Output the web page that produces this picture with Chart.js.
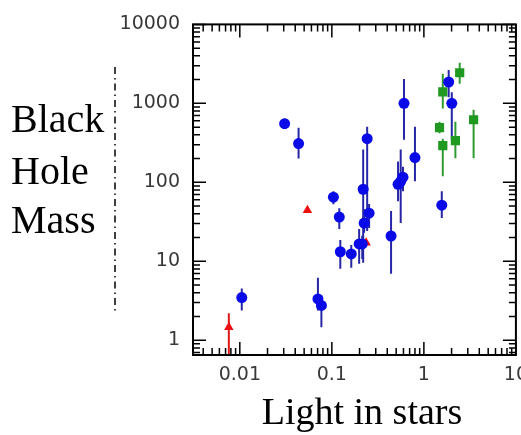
<!DOCTYPE html>
<html>
<head>
<meta charset="utf-8">
<script src="https://cdn.jsdelivr.net/npm/chart.js@4"></script>
<style>
  html, body { margin: 0; padding: 0; background: #fff; overflow: hidden; }
  #wrap { position: absolute; left: 0; top: 0; }
</style>
</head>
<body>
<div id="wrap"><canvas id="myChart" width="537" height="435"></canvas></div>
<script>
// galaxies with measured black holes (blue circles)
const blueX  = [0.0105, 0.0307, 0.0435, 0.0706, 0.077, 0.104, 0.1205, 0.1236, 0.1626, 0.198, 0.214, 0.2244, 0.254, 0.219, 0.242, 0.44, 0.56, 0.524, 0.593, 0.608, 0.80, 1.565, 1.86, 2.01];
const blueY  = [3.47, 552, 310, 3.33, 2.76, 64.8, 36.3, 13.2, 12.4, 16.6, 16.6, 30.5, 40.7, 81.7, 357, 20.9, 103, 94.4, 116, 1000, 206, 51.4, 1864, 1000];
const blueLo = [2.38, 478, 200, 2.38, 1.46, 52.9, 25.7, 8.05, 8.3, 9.3, 10.7, 22.9, 26.4, 9.57, 24.2, 6.96, 30.5, 57.6, 77, 347, 103, 35.3, 1195, 347];
const blueHi = [4.51, 638, 492, 6.2, 3.68, 77.3, 47.1, 18.6, 16.1, 25.6, 21, 45.6, 53, 260, 506, 43.2, 260, 184, 158, 2033, 506, 77.3, 2637, 1380];

// green squares
const greenX  = [1.48, 1.605, 1.605, 2.2, 2.45, 3.47];
const greenY  = [492, 1396, 292, 337, 2440, 620];
const greenLo = [417, 860, 119, 202, 1775, 202];
const greenHi = [585, 2371, 357, 585, 3258, 828];

// red triangles
const redX  = [0.0076, 0.0543, 0.236];
const redY  = [1.46, 44.4, 17.1];
const redLo = [0.5, 44.4, 17.1];
const redHi = [2.19, 44.4, 17.1];

// axis labels
const xTicks = [0.01, 0.1, 1, 10];
const xTickLabels = ["0.01", "0.1", "1", "10"];
const yTicks = [1, 10, 100, 1000, 10000];
const yTickLabels = ["1", "10", "100", "1000", "10000"];
const yTitle = ["Black", "Hole", "Mass"];
const xTitle = "Light in stars";

function points(xs, ys) {
  return xs.map((x, i) => ({ x: x, y: ys[i] }));
}

// vertical error bars, drawn under the markers
const errorBars = {
  id: "errorBars",
  beforeDatasetsDraw(chart) {
    const ctx = chart.ctx;
    const xs = chart.scales.x, ys = chart.scales.y;
    const a = chart.chartArea;
    const sets = [
      [redX, redLo, redHi, "#e01818"],
      [greenX, greenLo, greenHi, "#2f9a2f"],
      [blueX, blueLo, blueHi, "#2626a6"]
    ];
    ctx.save();
    ctx.beginPath();
    ctx.rect(a.left, a.top, a.right - a.left, a.bottom - a.top);
    ctx.clip();
    ctx.lineWidth = 2;
    sets.forEach(([x, lo, hi, color]) => {
      ctx.strokeStyle = color;
      for (let i = 0; i < x.length; i++) {
        if (lo[i] === hi[i]) continue;
        const px = xs.getPixelForValue(x[i]);
        ctx.beginPath();
        ctx.moveTo(px, ys.getPixelForValue(lo[i]));
        ctx.lineTo(px, ys.getPixelForValue(hi[i]));
        ctx.stroke();
      }
    });
    ctx.restore();
  }
};

// closed frame with inward log ticks on all four sides
function logTicks(scale, cb) {
  const lo = Math.floor(Math.log10(scale.min));
  const hi = Math.ceil(Math.log10(scale.max));
  for (let e = lo; e <= hi; e++) {
    for (let k = 1; k <= 9; k++) {
      const v = k * Math.pow(10, e);
      if (v < scale.min * 0.999 || v > scale.max * 1.001) continue;
      cb(scale.getPixelForValue(v), k === 1 ? 13 : 7);
    }
  }
}

const frame = {
  id: "frame",
  afterDatasetsDraw(chart) {
    const ctx = chart.ctx;
    const a = chart.chartArea;
    ctx.save();
    ctx.strokeStyle = "#000";
    ctx.lineWidth = 2;
    ctx.strokeRect(a.left, a.top, a.right - a.left, a.bottom - a.top);
    ctx.lineWidth = 1.5;
    ctx.beginPath();
    logTicks(chart.scales.x, (p, len) => {
      ctx.moveTo(p, a.bottom); ctx.lineTo(p, a.bottom - len);
      ctx.moveTo(p, a.top); ctx.lineTo(p, a.top + len);
    });
    logTicks(chart.scales.y, (p, len) => {
      ctx.moveTo(a.left, p); ctx.lineTo(a.left + len, p);
      ctx.moveTo(a.right, p); ctx.lineTo(a.right - len, p);
    });
    ctx.stroke();
    ctx.restore();
  }
};

// big serif titles and the dash-dot rule next to the y axis
const titles = {
  id: "titles",
  afterDraw(chart) {
    const ctx = chart.ctx;
    ctx.save();
    ctx.fillStyle = "#000";
    ctx.font = "40px 'Liberation Serif'";
    ctx.textAlign = "left";
    ctx.textBaseline = "alphabetic";
    const baselines = [132, 184, 233];
    yTitle.forEach((word, i) => ctx.fillText(word, 11, baselines[i]));
    ctx.font = "38px 'Liberation Serif'";
    ctx.textAlign = "center";
    ctx.fillText(xTitle, 362, 424);

    ctx.strokeStyle = "#000";
    ctx.lineWidth = 1.5;
    ctx.setLineDash([7, 4, 1.5, 4]);
    ctx.beginPath();
    ctx.moveTo(115, 67);
    ctx.lineTo(115, 312);
    ctx.stroke();
    ctx.restore();
  }
};

const tickFont = { family: "'DejaVu Sans'", size: 19 };

const ctx = document.getElementById("myChart").getContext("2d");
const bhChart = new Chart(ctx, {
  type: "scatter",
  data: {
    datasets: [
      {
        label: "blue",
        data: points(blueX, blueY),
        pointStyle: "circle",
        pointRadius: 5.5,
        backgroundColor: "#0a0ae8",
        borderColor: "#0a0ae8",
        borderWidth: 0
      },
      {
        label: "green",
        data: points(greenX, greenY),
        pointStyle: "rect",
        pointRadius: 6.5,
        backgroundColor: "#1f991f",
        borderColor: "#1f991f",
        borderWidth: 0
      },
      {
        label: "red",
        data: points(redX, redY),
        pointStyle: "triangle",
        pointRadius: 5.5,
        backgroundColor: "#ec1010",
        borderColor: "#ec1010",
        borderWidth: 0
      }
    ]
  },
  options: {
    responsive: false,
    animation: false,
    events: [],
    layout: { padding: { left: 113, right: 12, top: 22, bottom: 0 } },
    plugins: {
      legend: { display: false },
      tooltip: { enabled: false }
    },
    scales: {
      x: {
        type: "logarithmic",
        min: 0.0031,
        max: 10,
        border: { display: false },
        grid: { display: false, drawTicks: false },
        afterBuildTicks: (scale) => { scale.ticks = xTicks.map(v => ({ value: v })); },
        afterFit: (scale) => { scale.height = 80; },
        ticks: {
          autoSkip: false,
          maxRotation: 0,
          padding: 9,
          color: "#383838",
          font: tickFont,
          callback: (v) => xTickLabels[xTicks.indexOf(v)]
        }
      },
      y: {
        type: "logarithmic",
        min: 0.65,
        max: 10000,
        border: { display: false },
        grid: { display: false, drawTicks: false },
        afterBuildTicks: (scale) => { scale.ticks = yTicks.map(v => ({ value: v })); },
        afterFit: (scale) => { scale.width = 80; },
        ticks: {
          autoSkip: false,
          padding: 13,
          color: "#383838",
          font: tickFont,
          callback: (v) => yTickLabels[yTicks.indexOf(v)]
        }
      }
    }
  },
  plugins: [errorBars, frame, titles]
});
</script>
</body>
</html>
